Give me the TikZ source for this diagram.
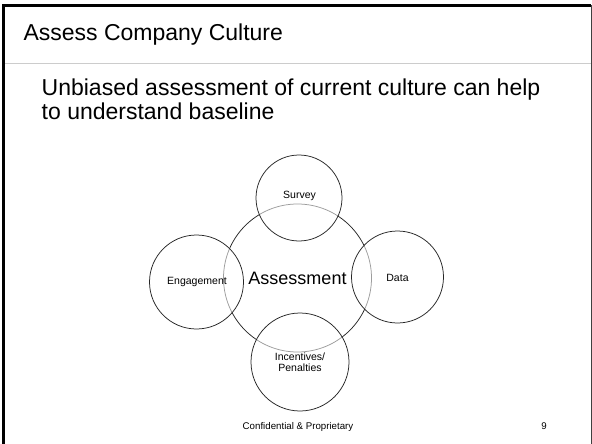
\documentclass[tikz,border=0pt]{standalone}
\usepackage{fontspec}
\setmainfont{Liberation Sans}
\begin{document}
\begin{tikzpicture}[x=1pt,y=-1pt,
  ring/.style={circle,draw=black!85,line width=0.75pt,inner sep=0pt},
  satellite/.style={ring,fill=white,fill opacity=0.55,text opacity=1},
  small/.style={font=\fontsize{10.5}{11}\selectfont,align=center}]
\useasboundingbox (0,0) rectangle (592,444);
\fill[white] (0,0) rectangle (592,444);
% slide frame
\draw[line width=3pt,black] (3.5,444) -- (3.5,5.5) -- (591,5.5);
\draw[line width=1pt,black!75] (591,5.5) -- (591,444);
\draw[line width=1pt,black!20] (5,64) -- (590.5,64);
% headings
\node[anchor=base west,inner sep=0pt,font=\fontsize{23}{24}\selectfont] (title) at (23.3,41) {Assess Company Culture};
\node[anchor=base west,inner sep=0pt,align=left,font=\fontsize{23}{24}\selectfont] (sub) at (41.5,119) {Unbiased assessment of current culture can help\\to understand baseline};
% central circle and its four satellites
\node[ring,minimum size=148pt,font=\fontsize{18}{20}\selectfont] (core) at (297.5,278) {Assessment};
\node[satellite,minimum size=86pt] (survey) at (299,198) {};
\node[satellite,minimum size=94pt] (engage) at (196.5,282) {};
\node[satellite,minimum size=92pt] (data) at (397.5,277) {};
\node[satellite,minimum size=98pt] (incent) at (300,362) {};
\node[small,anchor=center] (surveyT) at (299.5,196) {Survey};
\node[small,anchor=center] (engageT) at (197,282) {Engagement};
\node[small,anchor=center] (dataT) at (397.5,278) {Data};
\node[small,anchor=center] (incentT) at (300,362) {Incentives/\\Penalties};
% footer
\node[font=\fontsize{9.7}{11}\selectfont] (foot) at (298,427) {Confidential \& Proprietary};
\node[font=\fontsize{9.7}{11}\selectfont] (page) at (544,426) {9};
\end{tikzpicture}
\end{document}
